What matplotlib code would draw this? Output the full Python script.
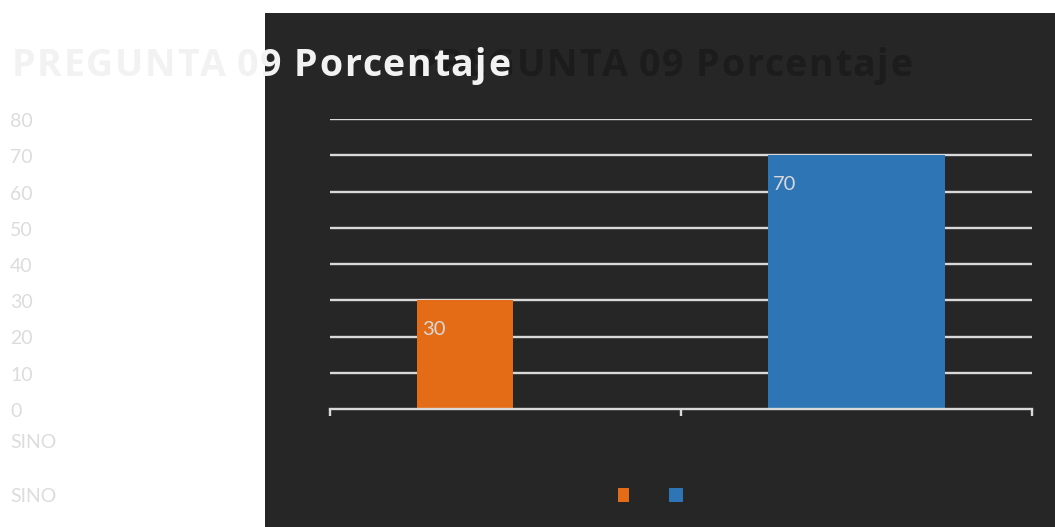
import matplotlib
matplotlib.use("Agg")
import matplotlib.pyplot as plt
from matplotlib.patches import Rectangle
from matplotlib.transforms import blended_transform_factory, offset_copy

# ---- data ----
title = "PREGUNTA 09 Porcentaje"
categories = ["SI", "NO"]
values = [30, 70]
bar_colors = ["#E46C17", "#2E75B6"]
yticks = [0, 10, 20, 30, 40, 50, 60, 70, 80]
side_labels = ["SINO", "SINO"]

W, H = 1055, 527
fig = plt.figure(figsize=(W / 100, H / 100), dpi=100)
fig.patch.set_facecolor("white")

FONT = ["Open Sans", "DejaVu Sans"]
LABEL_FONT = ["Lato", "Open Sans", "DejaVu Sans"]

def fx(px):
    return px / W

def fy(py):
    return 1 - py / H

# dark panel
fig.patches.append(Rectangle((fx(265), 0), 1 - fx(265), fy(13), transform=fig.transFigure,
                             facecolor="#262626", edgecolor="none", zorder=-5))

ax = fig.add_axes([fx(330), fy(409), fx(1032) - fx(330), fy(119) - fy(409)])
ax.set_zorder(2)
ax.set_facecolor("none")
ax.set_xlim(0, 2)
ax.set_ylim(0, 80)

for y in yticks[1:]:
    ax.axhline(y, color="#d9d9d9", lw=1.7, zorder=1)

# bars (category centers at 0.5, 1.5)
positions = [0.385, 1.5]
widths = [0.273, 0.504]
bars = ax.bar(positions, values, width=widths, color=bar_colors, zorder=2)
for b, v in zip(bars, values):
    ax.text(b.get_x() + 0.014, v - 8, str(v), color="#d9d9d9", fontsize=14.5,
            family=LABEL_FONT, ha="left", va="center", zorder=3)

for s in ["top", "right", "left"]:
    ax.spines[s].set_visible(False)
ax.spines["bottom"].set_color("#d9d9d9")
ax.spines["bottom"].set_linewidth(1.7)
ax.set_xticks([0, 1, 2])
ax.set_xticklabels([])
ax.tick_params(axis="x", direction="out", length=5, width=1.7, color="#d9d9d9")
ax.set_yticks([])

# left-side tick labels
tr = offset_copy(blended_transform_factory(fig.transFigure, ax.transData), fig=fig,
                 x=0, y=-2.5, units="dots")
for t in yticks:
    ax.text(fx(10), t, str(t), transform=tr, color="#dcdcdc", fontsize=14,
            family=LABEL_FONT, ha="left", va="center", clip_on=False)

fig.text(fx(10), fy(442), side_labels[0], color="#dcdcdc", fontsize=14,
         family=LABEL_FONT, ha="left", va="center")
fig.text(fx(10), fy(496), side_labels[1], color="#dcdcdc", fontsize=14,
         family=LABEL_FONT, ha="left", va="center")

# titles, drawn letter by letter with extra spacing
renderer = fig.canvas.get_renderer()

def spaced_text(x0_px, base_px, s, color, target_width, z):
    kw = dict(fontsize=27, fontweight="bold", family=FONT)
    probe = fig.text(0, 0, s, **kw)
    full = probe.get_window_extent(renderer).width
    probe.remove()
    extra = (target_width - full) / (len(s) - 1)
    for i, ch in enumerate(s):
        if i == 0:
            off = 0
        else:
            p = fig.text(0, 0, s[:i] + "|", **kw)
            q = fig.text(0, 0, "|", **kw)
            off = p.get_window_extent(renderer).width - q.get_window_extent(renderer).width
            p.remove(); q.remove()
        fig.text(fx(x0_px + off + i * extra), fy(base_px), ch, color=color,
                 ha="left", va="baseline", zorder=z, **kw)

spaced_text(414, 76, title, "#1c1c1c", 498, 5)
spaced_text(12, 76, title, "#f2f2f2", 498, 6)

# legend squares
for c, x0, w in zip(bar_colors, [618, 669], [11, 14]):
    fig.patches.append(Rectangle((fx(x0), fy(502)), fx(w), fy(488) - fy(502),
                                 transform=fig.transFigure, facecolor=c, edgecolor="none", zorder=3))

fig.savefig("out.png", dpi=100, facecolor=fig.get_facecolor())
